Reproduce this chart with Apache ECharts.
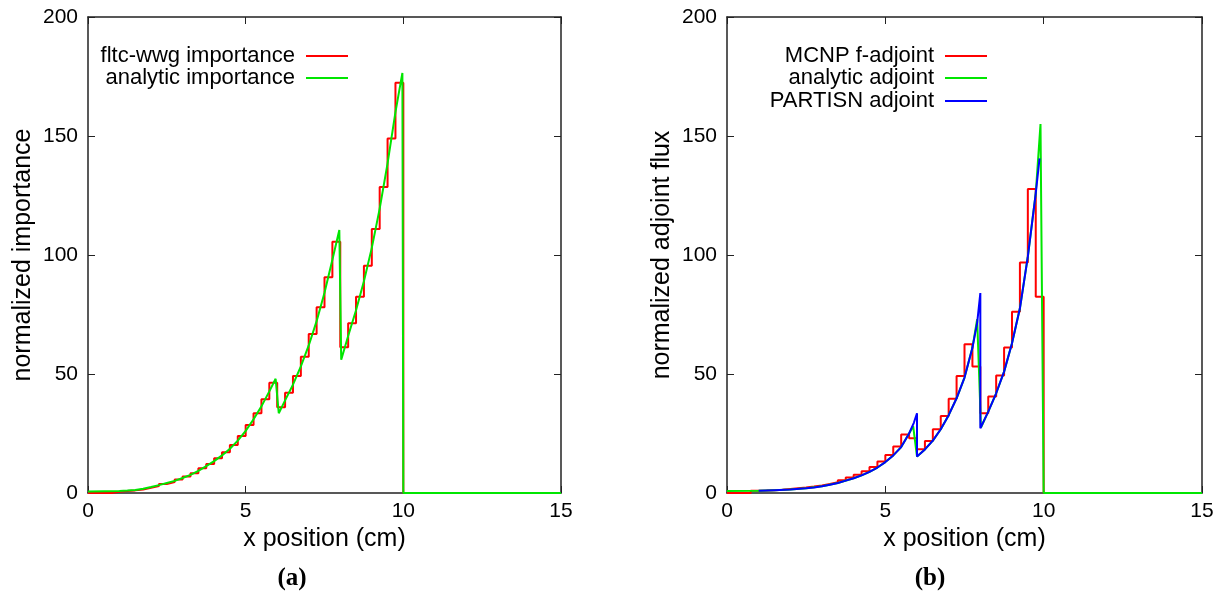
<!DOCTYPE html>
<html>
<head>
<meta charset="utf-8">
<script src="https://cdn.jsdelivr.net/npm/echarts@6/dist/echarts.min.js"></script>
<style>
  html, body { margin: 0; padding: 0; background: #fff; }
  #chart { width: 1226px; height: 600px; }
</style>
</head>
<body>
<div id="chart"></div>
<script>
// panel (a): fltc-wwg importance (histogram, left bin edges) vs analytic importance
const fltcX = [0, 0.25, 0.5, 0.75, 1, 1.25, 1.5, 1.75, 2, 2.25, 2.5, 2.75, 3, 3.25, 3.5, 3.75, 4, 4.25, 4.5, 4.75,
  5, 5.25, 5.5, 5.75, 6, 6.25, 6.5, 6.75, 7, 7.25, 7.5, 7.75, 8, 8.25, 8.5, 8.75, 9, 9.25, 9.5, 9.75, 10, 15]
const fltcY = [0, 0, 0, 0.5, 0.8, 1.1, 1.5, 2.2, 2.9, 3.8, 4.6, 5.7, 6.9, 8.3, 10.4, 12.2, 14.6, 17.1, 20.2, 23.9,
  28.6, 33.5, 39.4, 46.3, 36.0, 42.1, 49.2, 57.3, 66.8, 78.0, 90.6, 105.6, 61.2, 71.3, 82.5, 95.5, 110.9, 128.6, 148.9, 172.4, 0, 0]
const anaImpX = [0, 1, 1.25, 1.5, 1.75, 2, 2.25, 2.5, 2.75, 3, 3.25, 3.5, 3.75, 4, 4.25, 4.5, 4.75, 5, 5.25, 5.5, 5.75, 5.95,
  6.05, 6.25, 6.5, 6.75, 7, 7.25, 7.5, 7.75, 7.97, 8.03, 8.25, 8.5, 8.75, 9, 9.25, 9.5, 9.75, 9.97, 10, 15]
const anaImpY = [0.6, 0.8, 1.0, 1.3, 1.8, 2.5, 3.3, 4.2, 5.1, 6.3, 7.6, 9.3, 11.3, 13.4, 15.8, 18.6, 22.0, 26.1, 31.0, 36.4, 42.7, 48.0,
  33.5, 38.9, 45.5, 53.2, 62.0, 72.2, 84.1, 98.0, 110.5, 56.0, 66.0, 76.8, 89.0, 103.0, 119.5, 138.5, 160.0, 176.5, 0, 0]

// panel (b): MCNP f-adjoint (histogram), analytic adjoint, PARTISN adjoint
const mcnpX = fltcX
const mcnpY = [0, 0, 0, 0.9, 1.0, 1.2, 1.4, 1.7, 2.0, 2.3, 2.7, 3.2, 3.8, 4.5, 5.4, 6.5, 7.7, 9.1, 10.9, 13.2,
  16.0, 19.5, 24.6, 23.0, 18.4, 21.8, 26.8, 32.4, 39.6, 49.2, 62.5, 53.1, 33.5, 40.5, 49.4, 61.1, 76.2, 96.9, 127.7, 82.5, 0, 0]
const anaAdjX = [0, 1, 1.5, 2, 2.5, 3, 3.5, 4, 4.25, 4.5, 4.75, 5, 5.25, 5.5, 5.75, 5.88, 6.0, 6.25, 6.5, 6.75, 7, 7.25,
  7.5, 7.75, 7.9, 8.02, 8.25, 8.5, 8.75, 9, 9.25, 9.5, 9.75, 9.9, 10, 15]
const anaAdjY = [0.8, 0.9, 1.2, 1.5, 2.0, 2.8, 4.2, 6.2, 7.4, 8.9, 10.7, 13.0, 15.8, 19.3, 25.0, 28.0, 15.3, 18.3, 22.0, 26.8, 32.7, 39.8,
  48.5, 61.0, 73.0, 27.5, 34.2, 41.9, 51.0, 62.9, 77.6, 99.3, 125.9, 155.0, 0, 0]
const partX = [1, 1.5, 2, 2.5, 2.75, 3, 3.25, 3.5, 3.75, 4, 4.25, 4.5, 4.75, 5, 5.25, 5.5, 5.75, 5.9, 6.0,
  6.0, 6.25, 6.5, 6.75, 7, 7.25, 7.5, 7.75, 7.9, 8.0, 8.0, 8.25, 8.5, 8.75, 9, 9.25, 9.5, 9.75, 9.87]
const partY = [0.9, 1.2, 1.5, 2.0, 2.35, 2.8, 3.5, 4.2, 5.2, 6.2, 7.4, 8.9, 10.7, 13.0, 15.8, 19.3, 25.0, 29.5, 33.5,
  15.3, 18.3, 22.0, 26.8, 32.7, 39.8, 48.5, 61.0, 71.5, 84.0, 27.2, 34.2, 41.9, 51.0, 62.9, 77.6, 99.3, 125.9, 140.6]

const xTicks = [0, 5, 10, 15]
const yTicks = [0, 50, 100, 150, 200]

const RED = '#ff0000', GREEN = '#00e600', BLUE = '#0000ff'
const FONT = 'Liberation Sans, Arial, sans-serif'
const pts = (xs, ys) => xs.map((x, i) => [x, ys[i]])

function xAx (grid, top) {
  return {
    type: 'value', gridIndex: grid, position: top ? 'top' : 'bottom',
    min: xTicks[0], max: xTicks[xTicks.length - 1], interval: 5,
    name: top ? '' : 'x position (cm)', nameLocation: 'middle', nameGap: 31,
    nameTextStyle: { fontFamily: FONT, fontSize: 25, color: '#000' },
    axisLine: { show: true, onZero: false, lineStyle: { color: '#222', width: 1.5 } },
    axisTick: { show: true, inside: true, length: 7, lineStyle: { color: '#222', width: 1 } },
    axisLabel: { show: !top, fontFamily: FONT, fontSize: 21, color: '#000', margin: 8 },
    splitLine: { show: false },
  }
}
function yAx (grid, right, name) {
  return {
    type: 'value', gridIndex: grid, position: right ? 'right' : 'left',
    min: yTicks[0], max: yTicks[yTicks.length - 1], interval: 50,
    name: right ? '' : name, nameLocation: 'middle', nameGap: 52,
    nameTextStyle: { fontFamily: FONT, fontSize: 25, color: '#000' },
    axisLine: { show: true, onZero: false, lineStyle: { color: '#222', width: 1.5 } },
    axisTick: { show: true, inside: true, length: 7, lineStyle: { color: '#222', width: 1 } },
    axisLabel: { show: !right, fontFamily: FONT, fontSize: 21, color: '#000', margin: 10 },
    splitLine: { show: false },
  }
}
function line (name, xi, yi, data, color, extra) {
  return Object.assign({
    name, type: 'line', xAxisIndex: xi, yAxisIndex: yi, data,
    showSymbol: false, symbol: 'none', animation: false,
    itemStyle: { color }, lineStyle: { color, width: 2 },
  }, extra || {})
}
function leg (name, right, top) {
  return {
    data: [name], right, top, align: 'right', icon: 'rect', itemWidth: 42, itemHeight: 2,
    selectedMode: false,
    textStyle: { fontFamily: FONT, fontSize: 22, color: '#000', padding: [0, 6, 0, 0] },
  }
}

const chart = echarts.init(document.getElementById('chart'), null, { renderer: 'canvas' })
chart.setOption({
  animation: false,
  backgroundColor: '#fff',
  grid: [
    { left: 88, right: 665, top: 17, bottom: 107 },
    { left: 727, right: 24, top: 17, bottom: 107 },
  ],
  xAxis: [xAx(0, false), xAx(0, true), xAx(1, false), xAx(1, true)],
  yAxis: [yAx(0, false, 'normalized importance'), yAx(0, true), yAx(1, false, 'normalized adjoint flux'), yAx(1, true)],
  legend: [
    leg('fltc-wwg importance', 873, 40),
    leg('analytic importance', 873, 62),
    leg('MCNP f-adjoint', 234, 40),
    leg('analytic adjoint', 234, 62),
    leg('PARTISN adjoint', 234, 85),
  ],
  series: [
    line('fltc-wwg importance', 0, 0, pts(fltcX, fltcY), RED, { step: 'end' }),
    line('analytic importance', 0, 0, pts(anaImpX, anaImpY), GREEN),
    line('MCNP f-adjoint', 2, 2, pts(mcnpX, mcnpY), RED, { step: 'end' }),
    line('analytic adjoint', 2, 2, pts(anaAdjX, anaAdjY), GREEN),
    line('PARTISN adjoint', 2, 2, pts(partX, partY), BLUE),
  ],
  graphic: [
    { type: 'text', x: 292, y: 579, style: { text: '(a)', font: 'bold 25px "Liberation Serif", "Times New Roman", serif', fill: '#000', textAlign: 'center', textVerticalAlign: 'middle' } },
    { type: 'text', x: 930, y: 579, style: { text: '(b)', font: 'bold 25px "Liberation Serif", "Times New Roman", serif', fill: '#000', textAlign: 'center', textVerticalAlign: 'middle' } },
  ],
})
</script>
</body>
</html>
